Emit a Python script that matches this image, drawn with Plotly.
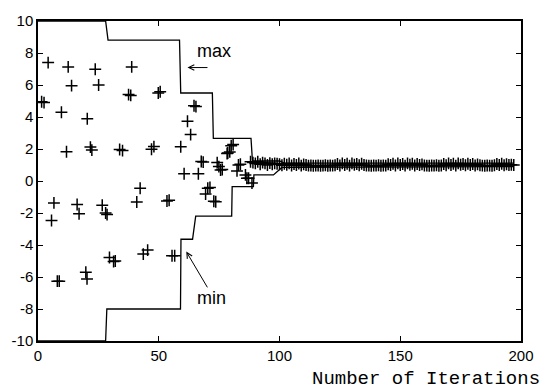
import plotly.graph_objects as go

# ---- data ----
# early scattered population estimates (iteration, value)
early_iter = [1.5, 2.5, 4.2, 5.6, 6.6, 8.0, 8.8, 9.7, 11.8, 12.5, 13.9, 16.2, 17.0, 19.8,
              20.3, 20.4, 21.7, 22.3, 23.7, 25.1, 26.6, 28.0, 28.6, 29.6, 31.3, 32.0,
              33.8, 35.0, 37.5, 38.4, 38.8, 40.9, 42.3, 43.6, 45.4, 47.0, 48.0, 49.8,
              50.6, 53.4, 54.3, 55.5, 56.6, 59.1, 60.5, 61.9, 63.2, 64.6, 65.4, 66.4,
              67.6, 68.4, 69.4, 70.3, 71.2, 72.8, 73.6, 74.2, 74.9, 75.6, 76.3, 78.3,
              78.6, 79.4, 80.0, 80.8, 82.4, 83.0, 83.8, 85.9, 86.5, 87.2, 88.6]
early_val = [4.95, 4.9, 7.4, -2.47, -1.37, -6.26, -6.26, 4.3, 1.83, 7.13, 5.96, -1.47,
             -2.05, -5.7, -6.12, 3.89, 2.12, 1.93, 6.98, 6.0, -1.52, -2.0, -2.1, -4.78,
             -5.03, -5.0, 1.97, 1.9, 5.4, 5.35, 7.13, -1.31, -0.45, -4.57, -4.32, 1.98,
             2.15, 5.5, 5.58, -1.25, -1.2, -4.67, -4.67, 2.14, 0.45, 3.73, 2.9, 4.7,
             4.65, 0.45, 1.22, 1.18, -0.82, -0.45, -0.4, -1.27, -1.3, 1.15, 0.9, 0.69,
             0.72, 1.72, 1.75, 1.82, 2.2, 2.28, 0.63, 1.0, 1.05, 0.38, 0.17, 0.17, -0.13]

# converged phase, one estimate per iteration
late_iter = list(range(88, 198))
late_val = [1.2, 1.15, 1.1, 1.2, 1.05, 1.15, 1.1, 1.0, 1.12, 1.05, 1.1, 1.08,
            1.05, 0.98, 1.08, 1.02, 1.1, 0.97, 1.06, 1.0, 1.09, 0.96, 1.04, 1.0,
            0.96, 0.97, 0.95, 0.96, 0.97, 0.95, 0.96, 0.98, 0.95, 0.97, 0.96, 0.98,
            1.06, 0.97, 1.1, 1.0, 1.08, 0.96, 1.1, 1.02, 1.06, 0.98, 1.08, 1.0,
            0.97, 0.96, 0.95, 0.97, 0.96, 0.98, 0.95, 0.97, 0.96, 1.05, 1.0, 1.08,
            0.97, 1.1, 1.0, 1.06, 0.96, 1.1, 1.02, 1.08, 0.97, 1.06, 1.0, 1.04,
            0.97, 0.96, 0.95, 0.97, 0.96, 0.98, 0.95, 0.97, 1.06, 0.98, 1.1, 1.0,
            1.08, 0.96, 1.1, 1.02, 1.06, 0.98, 1.08, 1.0, 1.06, 0.97, 1.04, 0.98,
            0.96, 0.95, 0.97, 0.96, 0.95, 0.98, 1.06, 1.0, 1.08, 0.98, 1.05, 1.0,
            1.02, 1.0]

# envelope (max / min) breakpoints
max_iter = [0, 28, 29, 58.6, 59.1, 72.2, 72.6, 88.2, 88.8, 100, 102, 197]
max_val = [10, 10, 8.8, 8.8, 5.5, 5.5, 2.67, 2.67, 1.25, 1.25, 1.12, 1.12]
min_iter = [0, 28, 28.5, 59.0, 59.2, 64.0, 64.3, 65.3, 80.2, 80.4, 89.2, 89.4, 97.5, 101, 197]
min_val = [-10, -10, -8, -8, -3.64, -3.64, -3.3, -2.2, -2.2, -0.35, -0.35, 0.38, 0.38, 0.85, 0.9]

x_ticks = [0, 50, 100, 150, 200]
y_ticks = [-10, -8, -6, -4, -2, 0, 2, 4, 6, 8, 10]

fig = go.Figure()
fig.add_trace(go.Scatter(x=max_iter, y=max_val, mode="lines",
                         line=dict(color="black", width=1.3), showlegend=False))
fig.add_trace(go.Scatter(x=min_iter, y=min_val, mode="lines",
                         line=dict(color="black", width=1.3), showlegend=False))
marker = dict(symbol="cross-thin", size=8.5, color="black",
              line=dict(color="black", width=1.5))
fig.add_trace(go.Scatter(x=early_iter, y=early_val, mode="markers",
                         marker=marker, showlegend=False))
fig.add_trace(go.Scatter(x=late_iter, y=late_val, mode="markers",
                         marker=marker, showlegend=False))

txt_font = dict(family="Liberation Sans Narrow, Liberation Sans, Arial", size=18, color="black")
# arrows
fig.add_annotation(x=61.9, y=7.09, ax=70.8, ay=7.09, xref="x", yref="y", axref="x", ayref="y",
                   text="", showarrow=True, arrowhead=5, arrowsize=1.1, arrowwidth=1, arrowcolor="black")
fig.add_annotation(x=61.4, y=-4.41, ax=70.5, ay=-6.74, xref="x", yref="y", axref="x", ayref="y",
                   text="", showarrow=True, arrowhead=5, arrowsize=1.1, arrowwidth=1, arrowcolor="black")
fig.add_annotation(x=72.8, y=8.1, text="max", showarrow=False, font=txt_font)
fig.add_annotation(x=72.0, y=-7.34, text="min", showarrow=False, font=txt_font)

fig.add_annotation(x=1.0, y=0, xref="paper", yref="paper", xanchor="right", yanchor="top",
                   yshift=-25, xshift=21,
                   text="Number of Iterations", showarrow=False,
                   font=dict(family="Liberation Mono, DejaVu Sans Mono, monospace", size=19, color="black"))

axis_common = dict(showgrid=False, zeroline=False, showline=True, linecolor="black", linewidth=1.5,
                   mirror="ticks", ticks="inside", ticklen=5, tickwidth=1, tickcolor="black",
                   tickfont=dict(family="Liberation Sans, Arial", size=15, color="black"))
fig.update_xaxes(range=[0, 200], tickvals=x_ticks, ticktext=[str(v) for v in x_ticks], **axis_common)
fig.update_yaxes(range=[-10, 10], tickvals=y_ticks, ticktext=[str(v) for v in y_ticks], **axis_common)

fig.update_layout(width=546, height=389, margin=dict(l=38, r=22, t=18, b=48),
                  plot_bgcolor="white", paper_bgcolor="white")
fig.write_html("out.html", config={"displayModeBar": False},
               post_script="document.body.style.margin='0';document.body.style.overflow='hidden';")
